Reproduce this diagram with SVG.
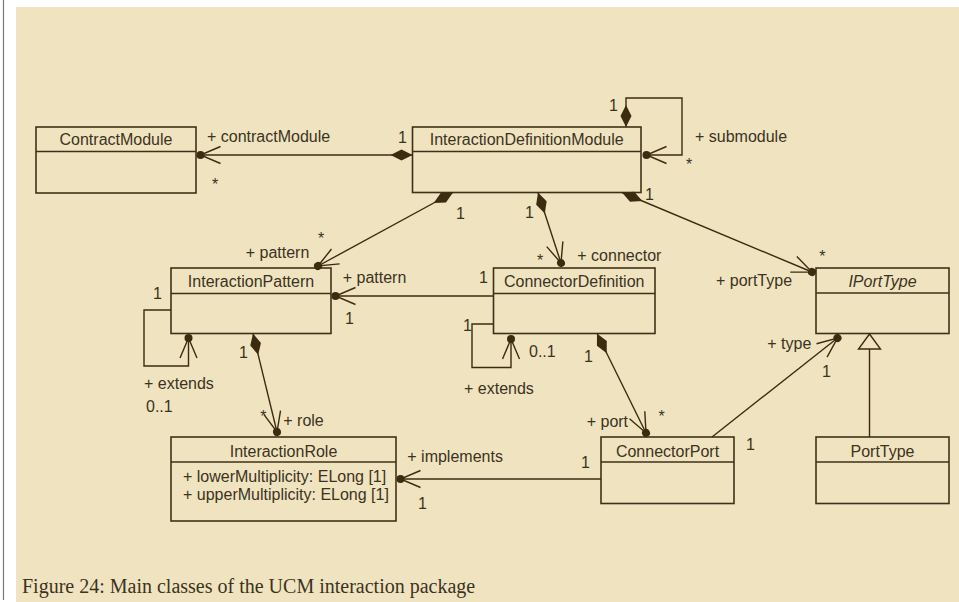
<svg xmlns="http://www.w3.org/2000/svg" width="959" height="602" viewBox="0 0 959 602">
<style>
.box{fill:none;stroke:#3f3118;stroke-width:1.6}
.div{stroke:#3f3118;stroke-width:1.6}
.ln{fill:none;stroke:#3b2c10;stroke-width:1.4}
text{font-family:"Liberation Sans",Arial,sans-serif;font-size:16px;fill:#3b3322}
.t{text-anchor:middle}
.st{text-anchor:middle}
.cap{font-family:"Liberation Serif","Times New Roman",serif;font-size:20px}
</style>
<defs>
<marker id="comp" markerUnits="userSpaceOnUse" orient="auto" refX="0" refY="0" viewBox="0 -7 24 14" markerWidth="24" markerHeight="14" overflow="visible">
<path d="M0,0 L11,-5.5 L22,0 L11,5.5 Z" fill="#3b2c10"/>
</marker>
<marker id="nav" markerUnits="userSpaceOnUse" orient="auto" refX="0" refY="0" viewBox="-24 -12 28 24" markerWidth="28" markerHeight="24" overflow="visible">
<path d="M-20,-8.5 L0,0 L-20,8.5" fill="none" stroke="#3b2c10" stroke-width="1.4"/>
<circle cx="0" cy="0" r="4" fill="#3b2c10"/>
</marker>
<marker id="gen" markerUnits="userSpaceOnUse" orient="auto" refX="0" refY="0" viewBox="-17 -13 19 26" markerWidth="19" markerHeight="26" overflow="visible">
<path d="M0,0 L-15,-11 L-15,11 Z" fill="#F0E3C0" stroke="#3b2c10" stroke-width="1.4"/>
</marker>
</defs>
<rect x="0" y="0" width="959" height="602" fill="#ffffff"/>
<rect x="16" y="7" width="943" height="595" fill="#F0E3C0"/>
<line x1="3.5" y1="0" x2="3.5" y2="600" stroke="#777777" stroke-width="1.2"/>

<g id="ContractModule">
<rect class="box" x="36" y="127" width="160" height="66"/>
<line class="div" x1="36" y1="151.5" x2="196" y2="151.5"/>
<text class="t" x="116" y="145.3">ContractModule</text>
</g>
<g id="InteractionDefinitionModule">
<rect class="box" x="412.5" y="127" width="228.5" height="65.5"/>
<line class="div" x1="412.5" y1="151.5" x2="641" y2="151.5"/>
<text class="t" x="526.7" y="145.3">InteractionDefinitionModule</text>
</g>
<g id="InteractionPattern">
<rect class="box" x="171" y="268" width="160" height="65.5"/>
<line class="div" x1="171" y1="293.5" x2="331" y2="293.5"/>
<text class="t" x="251" y="286.7">InteractionPattern</text>
</g>
<g id="ConnectorDefinition">
<rect class="box" x="493.5" y="268" width="161.5" height="65.5"/>
<line class="div" x1="493.5" y1="293.5" x2="655" y2="293.5"/>
<text class="t" x="574.2" y="286.7">ConnectorDefinition</text>
</g>
<g id="IPortType">
<rect class="box" x="816" y="268" width="133" height="65.5"/>
<line class="div" x1="816" y1="293" x2="949" y2="293"/>
<text class="t" x="882.5" y="286.7" font-style="italic">IPortType</text>
</g>
<g id="InteractionRole">
<rect class="box" x="171" y="437" width="225" height="84"/>
<line class="div" x1="171" y1="462" x2="396" y2="462"/>
<text class="t" x="283.5" y="456.7">InteractionRole</text>
<text x="183" y="481.7">+ lowerMultiplicity: ELong [1]</text>
<text x="183" y="500">+ upperMultiplicity: ELong [1]</text>
</g>
<g id="ConnectorPort">
<rect class="box" x="601" y="437" width="133" height="66.5"/>
<line class="div" x1="601" y1="462" x2="734" y2="462"/>
<text class="t" x="667.5" y="456.7">ConnectorPort</text>
</g>
<g id="PortType">
<rect class="box" x="816" y="437" width="133" height="66.5"/>
<line class="div" x1="816" y1="462" x2="949" y2="462"/>
<text class="t" x="882.5" y="456.7">PortType</text>
</g>

<g id="connectors">
<path class="ln" d="M412.5,155 L200.5,155" marker-start="url(#comp)" marker-end="url(#nav)"/>
<path class="ln" d="M626,127 L626,98 L682,98 L682,155 L646.5,155" marker-start="url(#comp)" marker-end="url(#nav)"/>
<path class="ln" d="M453,192.5 L318,266" marker-start="url(#comp)" marker-end="url(#nav)"/>
<path class="ln" d="M538,192.5 L561,263" marker-start="url(#comp)" marker-end="url(#nav)"/>
<path class="ln" d="M622,192.5 L812,272" marker-start="url(#comp)" marker-end="url(#nav)"/>
<path class="ln" d="M493.5,296 L335.5,296" marker-end="url(#nav)"/>
<path class="ln" d="M171,310 L144,310 L144,366 L188.5,366 L188.5,338" marker-end="url(#nav)"/>
<path class="ln" d="M253,333.5 L277,432" marker-start="url(#comp)" marker-end="url(#nav)"/>
<path class="ln" d="M493.5,324 L472,324 L472,367.5 L511,367.5 L511,339" marker-end="url(#nav)"/>
<path class="ln" d="M597,333.5 L646,433" marker-start="url(#comp)" marker-end="url(#nav)"/>
<path class="ln" d="M601,479 L400.5,479" marker-end="url(#nav)"/>
<path class="ln" d="M712,437 L837.5,338" marker-end="url(#nav)"/>
<path class="ln" d="M869.5,437 L869.5,334" marker-end="url(#gen)"/>

<text x="207" y="142">+ contractModule</text>
<text x="398" y="143">1</text>
<text class="st" x="215" y="190">*</text>
<text x="609" y="111">1</text>
<text x="695" y="142.3">+ submodule</text>
<text class="st" x="689" y="170">*</text>
<text x="456" y="219">1</text>
<text x="525" y="218">1</text>
<text x="645" y="200">1</text>
<text x="245.7" y="258.3">+ pattern</text>
<text class="st" x="321" y="244">*</text>
<text class="st" x="540" y="265.7">*</text>
<text x="577.3" y="260.7">+ connector</text>
<text class="st" x="822.3" y="262.3">*</text>
<text x="716" y="286">+ portType</text>
<text x="342.7" y="282.7">+ pattern</text>
<text x="479" y="283">1</text>
<text x="345" y="324">1</text>
<text x="153" y="299">1</text>
<text x="144" y="389.3">+ extends</text>
<text x="146" y="412.3">0..1</text>
<text x="239" y="358">1</text>
<text x="463" y="331">1</text>
<text x="529" y="356.7">0..1</text>
<text x="464" y="394">+ extends</text>
<text x="584" y="362">1</text>
<text x="767.3" y="349">+ type</text>
<text x="822" y="377">1</text>
<text class="st" x="263.3" y="422">*</text>
<text x="283.3" y="425.7">+ role</text>
<text x="586.7" y="426.7">+ port</text>
<text class="st" x="661.7" y="421.7">*</text>
<text x="746" y="450">1</text>
<text x="407.3" y="461.7">+ implements</text>
<text x="581" y="468">1</text>
<text x="418" y="509">1</text>
</g>

<text class="cap" x="22" y="593">Figure 24: Main classes of the UCM interaction package</text>
</svg>
